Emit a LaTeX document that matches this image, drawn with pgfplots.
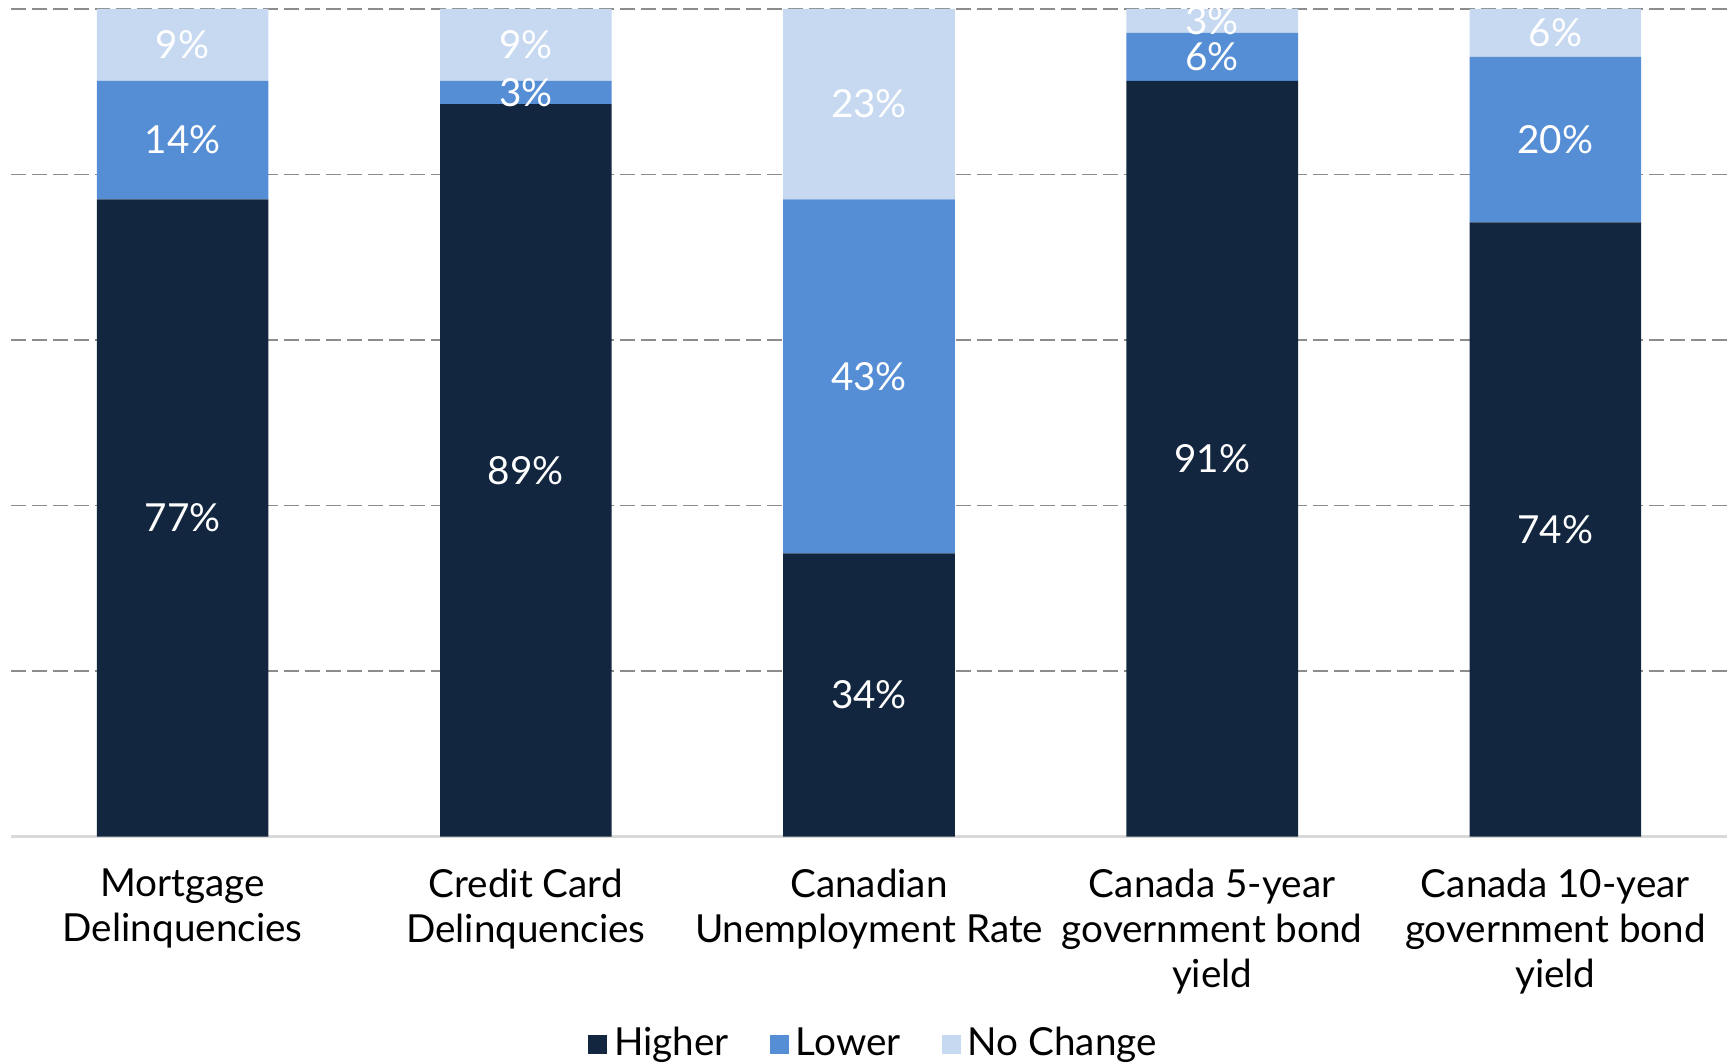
\documentclass[border=0pt]{standalone}
\usepackage{pgfplots}
\pgfplotsset{compat=1.18}
\usepackage{fontspec}
\setmainfont{Lato}

\definecolor{cHigher}{HTML}{12263F}
\definecolor{cLower}{HTML}{558ED5}
\definecolor{cNoChange}{HTML}{C6D9F1}
\definecolor{gridgray}{HTML}{8C8C8C}
\definecolor{basegray}{HTML}{D9D9D9}

\pgfplotsset{
    sqlegend/.style={legend image code/.code={\fill[##1] (0,-0.95mm) rectangle (1.9mm,0.95mm);}}
}

\begin{document}
\begin{tikzpicture}
\begin{axis}[
    name=ax,
    ybar stacked,
    bar width=0.5,
    scale only axis,
    width=171.6mm, height=82.75mm,
    xmin=-0.5, xmax=4.5,
    ymin=0, ymax=100,
    xtick={0,1,2,3,4},
    xticklabels={{Mortgage\\Delinquencies},{Credit Card\\Delinquencies},{Canadian\\Unemployment Rate},{Canada 5-year\\government bond\\yield},{Canada 10-year\\government bond\\yield}},
    xticklabel style={align=center, font=\fontsize{11}{12.8}\selectfont, yshift=-2.0mm},
    ytick={20,40,60,80,100},
    yticklabels={},
    yticklabel style={inner sep=0pt, outer sep=0pt},
    extra y ticks={0},
    extra y tick labels={},
    extra y tick style={grid style={solid, draw=basegray, line width=0.8pt}},
    ymajorgrids,
    grid style={draw=gridgray, line width=0.5pt, dash pattern=on 1.5mm off 0.6mm},
    major tick length=0pt,
    axis line style={draw=none},
    point meta=explicit symbolic,
    nodes near coords,
    every node near coord/.append style={anchor=center, text=white,
        font=\fontsize{11}{13}\selectfont},
    legend style={draw=none, fill=none, legend columns=-1,
        at={(0.5,-0.251)}, anchor=center, xshift=0.7mm,
        font=\fontsize{11}{13}\selectfont,
        /tikz/every even column/.append style={column sep=3.4mm}},
]
\addplot[fill=cHigher, draw=none, sqlegend]
    coordinates {(0,77.0) [77\%] (1,88.5) [89\%] (2,34.2) [34\%] (3,91.3) [91\%] (4,74.2) [74\%]};
\addplot[fill=cLower, draw=none, sqlegend]
    coordinates {(0,14.3) [14\%] (1,2.8) [3\%] (2,42.8) [43\%] (3,5.8) [6\%] (4,20.0) [20\%]};
\addplot[fill=cNoChange, draw=none, sqlegend]
    coordinates {(0,8.7) [9\%] (1,8.7) [9\%] (2,23.0) [23\%] (3,2.9) [3\%] (4,5.8) [6\%]};
\legend{Higher,Lower,No Change}
\coordinate (bl) at (rel axis cs:0,0);
\coordinate (tr) at (rel axis cs:1,1);
\end{axis}
\pgfresetboundingbox
\path (bl) ++(-1.1mm,-22.65mm) coordinate (a);
\path (tr) ++(0.6mm,0.9mm) coordinate (b);
\path[use as bounding box] (a) rectangle (b);
\end{tikzpicture}
\end{document}
